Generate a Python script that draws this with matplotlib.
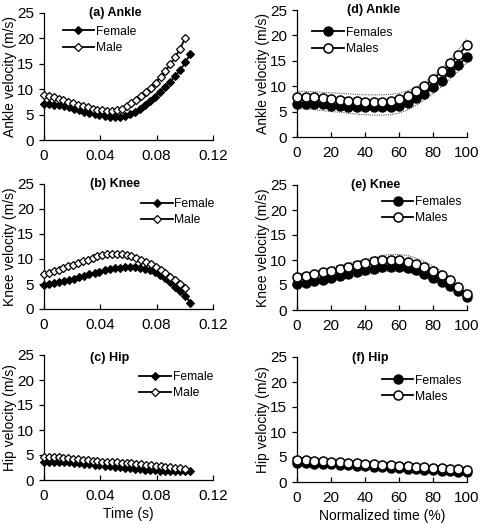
import matplotlib
matplotlib.use("Agg")
import matplotlib.pyplot as plt

plt.rcParams['font.family'] = ['Liberation Sans', 'DejaVu Sans']

# ---------------- data ----------------
# left column: absolute time (s)
t_female = [0.0, 0.0036, 0.0072, 0.0108, 0.0143, 0.0179, 0.0215, 0.0251, 0.0287, 0.0323,
            0.0359, 0.0394, 0.0430, 0.0466, 0.0502, 0.0538, 0.0574, 0.0610, 0.0646, 0.0681,
            0.0717, 0.0753, 0.0789, 0.0825, 0.0861, 0.0897, 0.0932, 0.0968, 0.1004, 0.1040]
t_male = [0.0, 0.0034, 0.0069, 0.0103, 0.0138, 0.0172, 0.0207, 0.0241, 0.0276, 0.0310,
          0.0345, 0.0379, 0.0414, 0.0448, 0.0483, 0.0517, 0.0552, 0.0586, 0.0621, 0.0655,
          0.0690, 0.0724, 0.0759, 0.0793, 0.0828, 0.0862, 0.0897, 0.0931, 0.0966, 0.1000]

ankle_female_t = [7.0, 7.0, 6.9, 6.8, 6.6, 6.4, 6.1, 5.9, 5.6, 5.3,
                  5.1, 4.9, 4.7, 4.6, 4.5, 4.6, 4.8, 5.1, 5.6, 6.2,
                  6.9, 7.7, 8.5, 9.4, 10.4, 11.5, 12.6, 13.8, 15.3, 17.0]
ankle_male_t = [8.8, 8.6, 8.4, 8.1, 7.8, 7.5, 7.2, 6.9, 6.6, 6.4,
                6.2, 6.0, 5.9, 5.8, 5.8, 5.9, 6.2, 6.6, 7.2, 7.9,
                8.6, 9.4, 10.3, 11.3, 12.4, 13.6, 14.9, 16.3, 17.9, 20.0]
knee_female_t = [4.8, 5.0, 5.2, 5.4, 5.6, 5.9, 6.1, 6.4, 6.7, 7.0,
                 7.3, 7.5, 7.8, 8.0, 8.2, 8.3, 8.4, 8.4, 8.4, 8.3,
                 8.1, 7.8, 7.4, 6.9, 6.2, 5.4, 4.5, 3.6, 2.6, 1.3]
knee_male_t = [7.0, 7.3, 7.6, 7.9, 8.2, 8.6, 8.9, 9.3, 9.6, 9.9,
               10.3, 10.6, 10.8, 11.0, 11.1, 11.1, 11.0, 10.8, 10.6, 10.3,
               9.9, 9.5, 9.0, 8.4, 7.8, 7.2, 6.5, 5.8, 5.0, 4.3]
hip_female_t = [3.7, 3.7, 3.7, 3.7, 3.6, 3.6, 3.5, 3.4, 3.3, 3.2,
                3.1, 3.0, 2.9, 2.8, 2.7, 2.6, 2.5, 2.4, 2.3, 2.2,
                2.1, 2.0, 2.0, 1.9, 1.9, 1.8, 1.8, 1.8, 1.8, 1.8]
hip_male_t = [4.7, 4.7, 4.6, 4.6, 4.5, 4.4, 4.3, 4.2, 4.1, 4.0,
              3.9, 3.8, 3.7, 3.7, 3.6, 3.6, 3.5, 3.5, 3.4, 3.3,
              3.2, 3.1, 3.0, 2.9, 2.8, 2.7, 2.6, 2.5, 2.4, 2.3]

# right column: normalized time (%)
t_norm = [0, 5, 10, 15, 20, 25, 30, 35, 40, 45, 50, 55, 60, 65, 70, 75, 80, 85, 90, 95, 100]

ankle_females = [6.5, 6.5, 6.5, 6.4, 6.2, 6.1, 6.0, 5.9, 5.9, 5.9, 5.9, 6.0, 6.2, 6.7, 7.6,
                 8.5, 9.8, 11.1, 12.7, 14.2, 15.8]
ankle_males = [7.8, 7.8, 7.8, 7.7, 7.5, 7.3, 7.1, 7.0, 6.9, 6.9, 6.9, 7.1, 7.5, 8.1, 9.0,
               10.1, 11.4, 12.9, 14.5, 16.2, 18.1]
ankle_upper = [9.0, 9.0, 8.9, 8.8, 8.7, 8.6, 8.5, 8.4, 8.3, 8.3, 8.3, 8.4, 8.6, 9.1, 9.8,
               10.8, 12.0, 13.5, 15.2, 17.2, 19.4]
ankle_lower = [5.6, 5.5, 5.4, 5.2, 5.0, 4.9, 4.7, 4.5, 4.4, 4.3, 4.3, 4.4, 4.7, 5.3, 6.2,
               7.3, 8.5, 9.9, 11.4, 13.0, 14.6]

knee_females = [5.3, 5.5, 5.8, 6.1, 6.4, 6.8, 7.2, 7.6, 8.0, 8.3, 8.6, 8.7, 8.7, 8.5, 8.0,
                7.3, 6.5, 5.7, 4.8, 3.8, 2.7]
knee_males = [6.6, 6.9, 7.2, 7.6, 7.9, 8.3, 8.7, 9.1, 9.5, 9.8, 10.0, 10.1, 10.0, 9.7, 9.2,
              8.6, 7.9, 7.0, 6.0, 4.7, 3.2]
knee_upper = [7.1, 7.4, 7.8, 8.1, 8.5, 8.9, 9.3, 9.7, 10.1, 10.5, 10.9, 11.1, 11.1, 10.9, 10.4,
              9.7, 8.8, 7.8, 6.6, 5.3, 3.9]
knee_lower = [4.7, 4.9, 5.1, 5.4, 5.7, 6.0, 6.4, 6.7, 7.0, 7.3, 7.6, 7.8, 7.8, 7.6, 7.1,
              6.5, 5.8, 5.0, 4.1, 3.2, 2.2]

hip_females = [3.8, 3.8, 3.7, 3.7, 3.6, 3.5, 3.4, 3.3, 3.2, 3.1, 3.0, 2.9, 2.8, 2.7, 2.6,
               2.5, 2.4, 2.3, 2.2, 2.1, 2.0]
hip_males = [4.4, 4.4, 4.3, 4.2, 4.1, 4.0, 3.9, 3.8, 3.7, 3.6, 3.5, 3.4, 3.3, 3.2, 3.1,
             3.0, 2.9, 2.8, 2.7, 2.6, 2.4]
hip_upper = [4.9, 4.8, 4.7, 4.6, 4.5, 4.4, 4.3, 4.2, 4.1, 4.0, 3.9, 3.8, 3.7, 3.6, 3.5,
             3.4, 3.3, 3.2, 3.1, 3.0, 2.9]
hip_lower = [3.3, 3.3, 3.2, 3.2, 3.1, 3.0, 2.9, 2.8, 2.7, 2.6, 2.5, 2.4, 2.3, 2.2, 2.1,
             2.0, 1.9, 1.8, 1.8, 1.7, 1.6]

left_xticks = [0, 0.04, 0.08, 0.12]
left_xticklabels = ['0', '0.04', '0.08', '0.12']
right_xticks = [0, 20, 40, 60, 80, 100]
yticks = [0, 5, 10, 15, 20, 25]

# ---------------- figure ----------------
fig = plt.figure(figsize=(4.85, 5.24), dpi=100)

W, H = 485.0, 524.0
def axes_px(x0, x1, ytop, ybot):
    return fig.add_axes([x0 / W, 1 - ybot / H, (x1 - x0) / W, (ybot - ytop) / H])

ax_a = axes_px(44, 213, 13, 140)
ax_b = axes_px(44, 213, 184, 309)
ax_c = axes_px(44, 213, 355, 480)
ax_d = axes_px(297, 467, 10, 137)
ax_e = axes_px(297, 467, 185, 310)
ax_f = axes_px(297, 467, 357, 482)

def style(ax, right):
    ax.set_ylim(0, 25)
    ax.set_yticks(yticks)
    for s in ('top', 'right'):
        ax.spines[s].set_visible(False)
    for s in ('left', 'bottom'):
        ax.spines[s].set_linewidth(0.9)
    ax.tick_params(axis='y', direction='out', length=3.5, width=0.9, pad=3.5, labelsize=11)
    ax.tick_params(axis='x', direction='in', length=3.5, width=0.9, pad=6.5, labelsize=11)
    if right:
        ax.set_xlim(0, 100)
        ax.set_xticks(right_xticks)
    else:
        ax.set_xlim(0, 0.12)
        ax.set_xticks(left_xticks)
        ax.set_xticklabels(left_xticklabels)

left_specs = [
    (ax_a, ankle_female_t, ankle_male_t, '(a) Ankle', 'Ankle velocity (m/s)', (0.11, 0.90), (0.42, 1.0)),
    (ax_b, knee_female_t, knee_male_t, '(b) Knee', 'Knee velocity (m/s)', (0.575, 0.89), (0.42, 1.0)),
    (ax_c, hip_female_t, hip_male_t, '(c) Hip', 'Hip velocity (m/s)', (0.565, 0.87), (0.39, 0.98)),
]
for ax, f, m, title, ylab, legpos, tpos in left_specs:
    style(ax, False)
    ax.plot(t_female, f, color='black', lw=1.3, marker='D', ms=4.4,
            mfc='black', mec='black', mew=0.8, clip_on=False, label='Female', zorder=3)
    ax.plot(t_male, m, color='black', lw=1.3, marker='D', ms=4.4,
            mfc='white', mec='black', mew=0.9, clip_on=False, label='Male', zorder=4)
    ax.text(tpos[0], tpos[1], title, transform=ax.transAxes, ha='center', va='center',
            fontsize=9, fontweight='bold')
    ax.set_ylabel(ylab, fontsize=10, labelpad=0.5)
    ax.legend(loc='upper left', bbox_to_anchor=legpos, frameon=False, fontsize=8.7,
              borderpad=0, borderaxespad=0, handlelength=2.6, handletextpad=0.15,
              labelspacing=0.35)

right_specs = [
    (ax_d, ankle_females, ankle_males, ankle_upper, ankle_lower, '(d) Ankle',
     'Ankle velocity (m/s)', (0.09, 0.87), (0.45, 1.0)),
    (ax_e, knee_females, knee_males, knee_upper, knee_lower, '(e) Knee',
     'Knee velocity (m/s)', (0.50, 0.91), (0.46, 1.0)),
    (ax_f, hip_females, hip_males, hip_upper, hip_lower, '(f) Hip',
     'Hip velocity (m/s)', (0.50, 0.86), (0.43, 0.99)),
]
for ax, f, m, up, lo, title, ylab, legpos, tpos in right_specs:
    style(ax, True)
    ax.plot(t_norm, up, color='#555555', lw=0.8, ls=(0, (1, 1)), zorder=2)
    ax.plot(t_norm, lo, color='#555555', lw=0.8, ls=(0, (1, 1)), zorder=2)
    ax.plot(t_norm, f, color='black', lw=1.3, marker='o', ms=6.5,
            mfc='black', mec='black', mew=1.0, clip_on=False, label='Females', zorder=3)
    ax.plot(t_norm, m, color='black', lw=1.3, marker='o', ms=6.5,
            mfc='white', mec='black', mew=1.1, clip_on=False, label='Males', zorder=4)
    ax.text(tpos[0], tpos[1], title, transform=ax.transAxes, ha='center', va='center',
            fontsize=9, fontweight='bold')
    ax.set_ylabel(ylab, fontsize=10, labelpad=0.5)
    ax.legend(loc='upper left', bbox_to_anchor=legpos, frameon=False, fontsize=8.7,
              borderpad=0, borderaxespad=0, handlelength=2.6, handletextpad=0.15,
              labelspacing=0.35)

ax_c.set_xlabel('Time (s)', fontsize=10, labelpad=3)
ax_f.set_xlabel('Normalized time (%)', fontsize=10, labelpad=3)

fig.savefig('out.png', dpi=100)
